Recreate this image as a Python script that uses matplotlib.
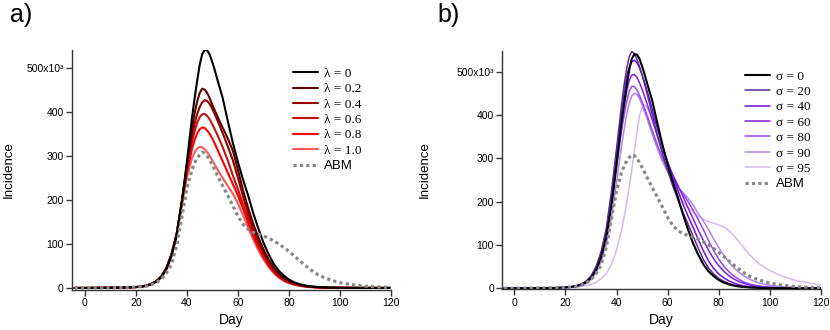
import matplotlib
matplotlib.use('Agg')
import matplotlib.pyplot as plt

plt.rcParams['font.family'] = ['Liberation Sans', 'DejaVu Sans']

# days of the simulated epidemic (shared by every curve)
days = [-4, 0, 8, 16,
        20, 22, 24, 26, 28, 30, 32, 34, 36, 38, 40, 42,
        43, 44, 45, 46, 47, 48, 49, 50, 51, 52,
        54, 56, 58, 60, 62, 64, 66, 68, 70, 72, 74, 76, 78, 80,
        82, 84, 86, 88, 90, 92, 94, 96, 98, 100,
        104, 110, 120]

# incidence in thousands
lam_0 = [0, 0, 0.3, 1,
         2, 3, 5, 8, 14, 24, 42, 72, 118, 190, 285, 385,
         428, 468, 505, 530, 540, 539, 529, 512, 493, 472,
         432, 380, 330, 286, 246, 210, 170, 135, 103, 77, 55, 39, 28, 19,
         13, 9, 6, 4, 3, 2, 1.5, 1, 0.7, 0.5,
         0.3, 0.1, 0]
lam_02 = [0, 0, 0.3, 1,
          2, 3, 5, 9, 15, 26, 45, 76, 122, 195, 280, 362,
          395, 422, 442, 452, 450, 442, 430, 415, 402, 389,
          364, 340, 312, 268, 222, 182, 146, 115, 88, 65, 47, 33, 23, 16,
          11, 7.5, 5, 3.4, 2.3, 1.5, 1, 0.7, 0.5, 0.3,
          0.2, 0.1, 0]
lam_04 = [0, 0, 0.3, 1,
          2, 3, 5, 9, 15, 26, 45, 76, 122, 195, 275, 345,
          372, 394, 410, 421, 426, 424, 417, 406, 393, 380,
          352, 322, 290, 250, 208, 170, 136, 106, 80, 59, 42, 30, 21, 14,
          10, 6.5, 4.4, 3, 2, 1.3, 0.9, 0.6, 0.4, 0.3,
          0.2, 0.1, 0]
lam_06 = [0, 0, 0.3, 1,
          2, 3, 5, 9, 15, 26, 45, 76, 122, 194, 268, 330,
          355, 374, 387, 394, 395, 390, 382, 371, 359, 347,
          320, 290, 256, 224, 190, 158, 126, 98, 75, 55, 39, 27, 19, 13,
          9, 6, 4, 2.6, 1.8, 1.2, 0.8, 0.5, 0.4, 0.3,
          0.2, 0.1, 0]
lam_08 = [0, 0, 0.3, 1,
          2, 3, 5, 9, 15, 26, 45, 76, 122, 192, 260, 315,
          335, 350, 360, 364, 363, 357, 349, 339, 327, 314,
          288, 262, 236, 210, 180, 148, 118, 92, 70, 51, 36, 25, 17, 12,
          8, 5.5, 3.7, 2.4, 1.6, 1.1, 0.7, 0.5, 0.3, 0.2,
          0.1, 0.1, 0]
lam_10 = [0, 0, 0.3, 1,
          2, 3, 5, 9, 15, 26, 45, 76, 120, 188, 250, 294,
          307, 316, 320, 319, 315, 308, 299, 289, 279, 269,
          250, 232, 214, 192, 165, 137, 110, 86, 65, 48, 34, 24, 16, 11,
          7.5, 5, 3.4, 2.2, 1.5, 1, 0.7, 0.4, 0.3, 0.2,
          0.1, 0.1, 0]
abm = [0, 0, 0.5, 1,
       2, 3, 4, 7, 12, 20, 34, 54, 95, 160, 225, 268,
       283, 294, 302, 308, 306, 299, 290, 279, 267, 255,
       232, 210, 187, 163, 145, 133, 126, 122, 118, 113, 107, 100, 92, 83,
       73, 63, 53, 44, 35, 28, 23, 19, 15, 12,
       8, 4, 1]

sig_0 = lam_0
sig_20 = [0, 0, 0.3, 1,
          2, 3, 5, 9, 16, 28, 50, 85, 138, 222, 322, 425,
          470, 508, 535, 546, 541, 528, 511, 492, 470, 448,
          400, 352, 310, 272, 236, 205, 175, 148, 120, 92, 66, 47, 33, 23,
          16, 11, 7.5, 5, 3.5, 2.4, 1.6, 1.1, 0.8, 0.5,
          0.3, 0.1, 0]
sig_40 = [0, 0, 0.3, 1,
          2, 3, 5, 9, 15, 27, 48, 82, 133, 215, 312, 410,
          452, 488, 511, 523, 526, 520, 508, 492, 474, 455,
          412, 368, 328, 292, 258, 226, 194, 166, 140, 112, 86, 63, 46, 33,
          24, 17, 12, 8, 5.5, 3.8, 2.6, 1.8, 1.2, 0.8,
          0.4, 0.1, 0]
sig_60 = [0, 0, 0.3, 1,
          2, 3, 5, 8, 14, 26, 46, 79, 128, 205, 297, 385,
          422, 455, 480, 492, 493, 486, 474, 459, 442, 425,
          388, 352, 318, 288, 262, 238, 212, 185, 160, 134, 110, 88, 68, 52,
          39, 29, 21, 15, 11, 8, 5.5, 4, 2.8, 2,
          1, 0.3, 0]
sig_80 = [0, 0, 0.3, 1,
          2, 3, 5, 8, 13, 24, 43, 74, 120, 193, 280, 365,
          400, 432, 455, 466, 465, 457, 445, 430, 414, 398,
          364, 330, 300, 274, 252, 234, 218, 200, 180, 158, 135, 110, 87, 67,
          51, 38, 28, 20, 14, 10, 7, 5, 3.5, 2.5,
          1.2, 0.5, 0.1]
sig_90 = [0, 0, 0.2, 0.8,
          1.6, 2.5, 4, 7, 11, 20, 36, 62, 102, 165, 245, 330,
          368, 402, 428, 444, 450, 447, 437, 423, 407, 390,
          355, 322, 292, 268, 248, 232, 220, 208, 192, 172, 155, 135, 114, 94,
          76, 60, 47, 36, 28, 21, 16, 12, 9, 7,
          4, 1.8, 0.4]
sig_95 = [0, 0, 0.2, 0.6,
          1.2, 1.8, 2.7, 4, 6, 9, 14, 22, 34, 55, 88, 135,
          165, 198, 235, 275, 318, 362, 398, 418, 423, 418,
          392, 350, 308, 272, 242, 218, 200, 187, 176, 166, 159, 154, 150, 146,
          141, 133, 121, 107, 92, 78, 66, 56, 48, 41,
          30, 18, 7]

lam_labels = ['λ = 0', 'λ = 0.2', 'λ = 0.4', 'λ = 0.6', 'λ = 0.8', 'λ = 1.0']
lam_colors = ['#000000', '#5e0000', '#990000', '#cc1010', '#ff0000', '#ff5a5a']
sig_labels = ['σ = 0', 'σ = 20', 'σ = 40', 'σ = 60', 'σ = 80', 'σ = 90', 'σ = 95']
sig_colors = ['#000000', '#5a2a9c', '#7010e0', '#8020f0', '#9548f0', '#b184ea', '#d3bbf0']

x_ticks = [0, 20, 40, 60, 80, 100, 120]
y_ticks = [0, 100, 200, 300, 400, 500]
y_tick_labels = ['0', '100', '200', '300', '400', '500x10³']


def draw_panel(ax, curves, labels, colors, lw, xlim, ylim, leg_xy):
    n = len(curves)
    for i, (c, lab, col) in enumerate(zip(curves, labels, colors)):
        z = 3 + n if i == 0 else 3 + (n - i)
        ax.plot(days, c, color=col, lw=lw if i else 1.5, label=lab, zorder=z,
                solid_capstyle='round', solid_joinstyle='round')
    ax.plot(days, abm, color='#888888', lw=2.3, linestyle=(0, (1.0, 1.0)),
            label='ABM', zorder=20)
    ax.set_xlim(xlim)
    ax.set_ylim(ylim)
    for s in ['top', 'right']:
        ax.spines[s].set_visible(False)
    for s in ['left', 'bottom']:
        ax.spines[s].set_linewidth(1.0)
        ax.spines[s].set_color('#333333')
    ax.set_xticks(x_ticks)
    ax.set_yticks(y_ticks)
    ax.set_yticklabels(y_tick_labels)
    ax.tick_params(direction='out', length=4, width=1, color='#333333',
                   labelsize=7.5, pad=2)
    ax.set_xlabel('Day', fontsize=10, labelpad=4)
    ax.set_ylabel('Incidence', fontsize=9.5)
    leg = ax.legend(loc='upper left', bbox_to_anchor=leg_xy, frameon=False,
                    fontsize=9.5, handlelength=1.9, handletextpad=0.45,
                    labelspacing=0.24, borderpad=0, borderaxespad=0)
    for t in leg.get_texts():
        if t.get_text() != 'ABM':
            t.set_fontfamily('Liberation Serif')
    return ax


fig = plt.figure(figsize=(8.3, 3.3), dpi=100)
ax_a = fig.add_axes([72 / 830, 40.5 / 330, 319 / 830, 240 / 330])
ax_b = fig.add_axes([502.3 / 830, 40.7 / 330, 318.7 / 830, 238.6 / 330])

draw_panel(ax_a, [lam_0, lam_02, lam_04, lam_06, lam_08, lam_10],
           lam_labels, lam_colors, 1.5, (-5, 120), (-3.5, 541), (0.693, 0.925))
draw_panel(ax_b, [sig_0, sig_20, sig_40, sig_60, sig_80, sig_90, sig_95],
           sig_labels, sig_colors, 1.1, (-4.7, 120), (-2.3, 548), (0.7616, 0.918))

ax_a.yaxis.set_label_coords(-0.178, 0.5)
ax_b.yaxis.set_label_coords(-0.225, 0.5)

fig.text(10 / 830, 1 - 3 / 330, 'a)', fontsize=18, va='top', ha='left')
fig.text(437 / 830, 1 - 3 / 330, 'b)', fontsize=18, va='top', ha='left')

fig.savefig('out.png', dpi=100)
